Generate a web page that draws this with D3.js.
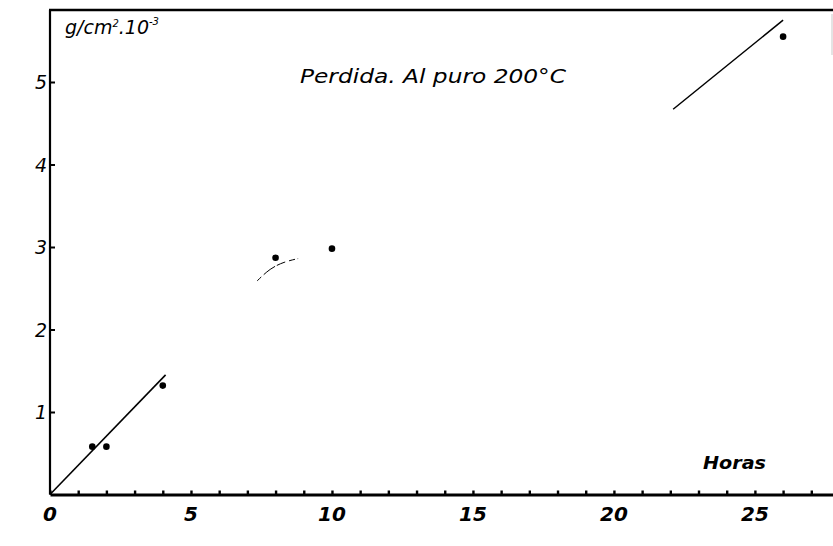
<!DOCTYPE html>
<html>
<head>
<meta charset="utf-8">
<script src="https://cdn.jsdelivr.net/npm/d3@7"></script>
<style>
  html, body { margin: 0; padding: 0; background: #fff; }
  svg { display: block; }
  text { font-family: "DejaVu Sans", sans-serif; fill: #000; }
</style>
</head>
<body>
<svg id="chart" width="833" height="546"></svg>
<script>
// Weight loss of pure aluminium at 200 °C versus time
const hours = [1.5, 2, 4, 8, 10, 26];
const loss  = [0.58, 0.58, 1.32, 2.87, 2.98, 5.55];

// Hand-drawn trend segments (hours, g/cm²·10⁻³)
const trendStartHours = [0, 4.1];
const trendStartLoss  = [0, 1.45];
const trendBendHours  = [7.35, 7.8, 8.3, 8.8];
const trendBendLoss   = [2.59, 2.74, 2.82, 2.86];
const trendEndHours   = [22.1, 26.0];
const trendEndLoss    = [4.67, 5.75];

const xTickValues  = d3.range(0, 28);
const xLabelValues = [0, 5, 10, 15, 20, 25];
const yTickValues  = [1, 2, 3, 4, 5];

const svg = d3.select("#chart");
const x = d3.scaleLinear().domain([0, 27.77]).range([50, 833]);
const y = d3.scaleLinear().domain([0, 5]).range([494.5, 82]);
const yTop = 10;

// frame: left axis and top border
svg.append("line").attr("x1", x(0)).attr("x2", x(0)).attr("y1", yTop).attr("y2", y(0))
  .attr("stroke", "#000").attr("stroke-width", 2.2);
svg.append("line").attr("x1", x(0) - 1).attr("x2", 833).attr("y1", yTop).attr("y2", yTop)
  .attr("stroke", "#000").attr("stroke-width", 2.6);
svg.append("line").attr("x1", 832).attr("x2", 832).attr("y1", 14).attr("y2", 55)
  .attr("stroke", "#e4e4e4").attr("stroke-width", 2);

// bottom axis with small upward ticks
const xAxis = d3.axisBottom(x).tickValues(xTickValues).tickSizeInner(-4).tickSizeOuter(0).tickFormat("");
const gx = svg.append("g").attr("transform", `translate(0,${y(0)})`).call(xAxis);
gx.select(".domain").attr("stroke", "#000").attr("stroke-width", 3.2);
gx.selectAll(".tick line").attr("stroke", "#000").attr("stroke-width", 2.4);

svg.append("g").selectAll("text").data(xLabelValues).join("text")
  .attr("x", d => x(d)).attr("y", 521)
  .attr("text-anchor", "middle")
  .attr("font-size", 20).attr("font-weight", "bold").attr("font-style", "italic")
  .text(d => d);

// left axis ticks pointing inward
const yAxis = d3.axisRight(y).tickValues(yTickValues).tickSizeInner(5).tickSizeOuter(0).tickFormat("");
const gy = svg.append("g").attr("transform", `translate(${x(0)},0)`).call(yAxis);
gy.select(".domain").remove();
gy.selectAll(".tick line").attr("stroke", "#000").attr("stroke-width", 2);

svg.append("g").selectAll("text").data(yTickValues).join("text")
  .attr("x", 41).attr("y", d => y(d) + 7)
  .attr("text-anchor", "middle")
  .attr("font-size", 19).attr("font-style", "italic")
  .text(d => d);

// trend lines
const line = d3.line().x(d => x(d[0])).y(d => y(d[1]));
svg.append("path").datum(d3.zip(trendStartHours, trendStartLoss)).attr("d", line)
  .attr("fill", "none").attr("stroke", "#000").attr("stroke-width", 1.6);
svg.append("path").datum(d3.zip(trendEndHours, trendEndLoss)).attr("d", line)
  .attr("fill", "none").attr("stroke", "#000").attr("stroke-width", 1.5);
svg.append("path").datum(d3.zip(trendBendHours, trendBendLoss))
  .attr("d", line.curve(d3.curveBasis))
  .attr("fill", "none").attr("stroke", "#000").attr("stroke-width", 1)
  .attr("stroke-dasharray", "6,3,14,2,9,4");

// measured points
svg.append("g").selectAll("circle").data(d3.zip(hours, loss)).join("circle")
  .attr("cx", d => x(d[0])).attr("cy", d => y(d[1])).attr("r", 3.3).attr("fill", "#000");

// labels
svg.append("text").attr("x", 65).attr("y", 34)
  .attr("font-size", 19).attr("font-style", "italic")
  .html('g/cm<tspan dy="-7" font-size="10">2</tspan><tspan dy="7">.10</tspan><tspan dy="-9" font-size="10">-3</tspan>');

svg.append("text").attr("x", 300).attr("y", 83)
  .attr("font-size", 19).attr("font-style", "italic")
  .attr("textLength", 266).attr("lengthAdjust", "spacingAndGlyphs")
  .text("Perdida. Al puro 200°C");

svg.append("text").attr("x", 703).attr("y", 469)
  .attr("font-size", 18).attr("font-weight", "bold").attr("font-style", "italic")
  .attr("textLength", 63).attr("lengthAdjust", "spacingAndGlyphs")
  .text("Horas");
</script>
</body>
</html>
